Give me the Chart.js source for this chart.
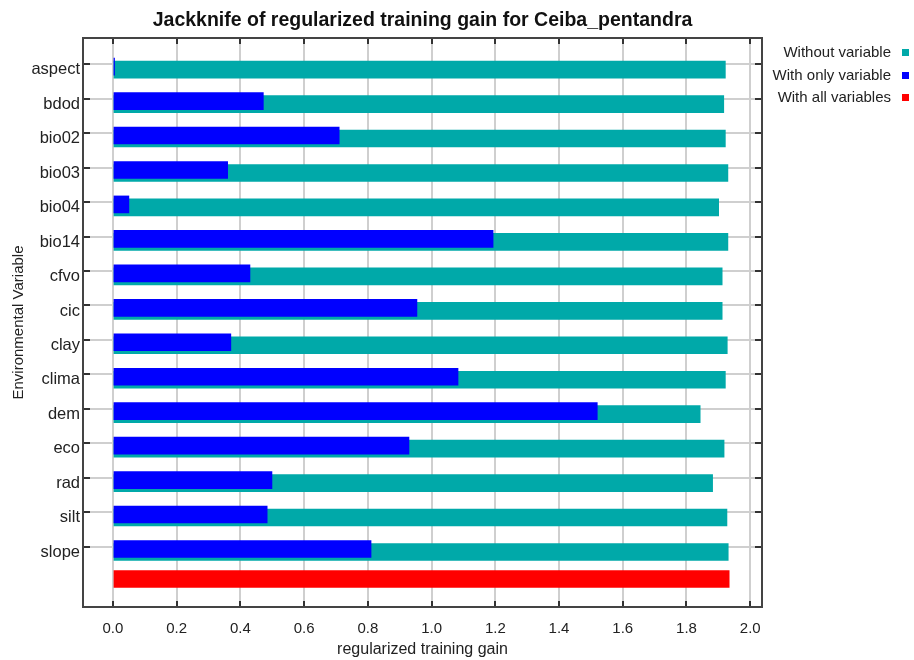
<!DOCTYPE html>
<html>
<head>
<meta charset="utf-8">
<title>Jackknife of regularized training gain for Ceiba_pentandra</title>
<script src="https://cdn.jsdelivr.net/npm/chart.js@4.4.1/dist/chart.umd.min.js"></script>
<style>
  html, body { margin: 0; padding: 0; background: #fff; }
  canvas { display: block; }
</style>
</head>
<body>
<canvas id="jackknife" width="914" height="660"></canvas>
<script>
// Jackknife of regularized training gain, one row per environmental variable
const variables = ['aspect', 'bdod', 'bio02', 'bio03', 'bio04', 'bio14', 'cfvo', 'cic',
  'clay', 'clima', 'dem', 'eco', 'rad', 'silt', 'slope'];
const withoutVariable = [1.922, 1.917, 1.922, 1.930, 1.901, 1.930, 1.912, 1.912,
  1.928, 1.922, 1.843, 1.918, 1.882, 1.927, 1.931];
const withOnlyVariable = [0.005, 0.472, 0.710, 0.360, 0.050, 1.193, 0.430, 0.954,
  0.370, 1.083, 1.520, 0.929, 0.499, 0.484, 0.810];
const withAllVariables = 1.934;
const gainTicks = [0.0, 0.2, 0.4, 0.6, 0.8, 1.0, 1.2, 1.4, 1.6, 1.8, 2.0];

const TEAL = '#00a9a9';
const BLUE = '#0000ff';
const RED = '#ff0000';
const GRID = '#cfcfcf';
const INK = '#222';

Chart.defaults.font.family = '"Liberation Sans", Arial, sans-serif';
Chart.defaults.color = INK;

// row scales: the labelled one plus hidden copies nudged by a few pixels,
// so the bars sit a little below the tick lines like the MaxEnt plot
const ROW_MIN = -0.763;
const ROW_MAX = 15.75;
const PLOT_H = 569;
const ROW_PX = PLOT_H / (ROW_MAX - ROW_MIN);

function rowScale(shiftPx) {
  const d = shiftPx / ROW_PX;
  return {
    type: 'linear', display: false, reverse: true, offset: false,
    grid: { offset: false },
    min: ROW_MIN - d, max: ROW_MAX - d
  };
}

const legendItems = [
  { text: 'Without variable', color: TEAL },
  { text: 'With only variable', color: BLUE },
  { text: 'With all variables', color: RED }
];

// frame, inward ticks, title and legend
const decorations = {
  id: 'decorations',
  afterDraw(chart) {
    const { ctx, chartArea: a, scales } = chart;
    ctx.save();

    ctx.strokeStyle = '#333';
    ctx.lineWidth = 2;
    ctx.beginPath();
    gainTicks.forEach(v => {
      const px = Math.round(scales.x.getPixelForValue(v));
      ctx.moveTo(px, a.bottom); ctx.lineTo(px, a.bottom - 6);
      ctx.moveTo(px, a.top); ctx.lineTo(px, a.top + 6);
    });
    variables.forEach((_, i) => {
      const py = Math.round(scales.y.getPixelForValue(i));
      ctx.moveTo(a.left, py); ctx.lineTo(a.left + 7, py);
      ctx.moveTo(a.right, py); ctx.lineTo(a.right - 7, py);
    });
    ctx.stroke();

    ctx.strokeStyle = '#444';
    ctx.lineWidth = 2;
    ctx.strokeRect(a.left, a.top, a.right - a.left, a.bottom - a.top);

    ctx.fillStyle = '#111';
    ctx.font = 'bold 19.5px "Liberation Sans", Arial, sans-serif';
    ctx.textAlign = 'center';
    ctx.textBaseline = 'middle';
    ctx.fillText('Jackknife of regularized training gain for Ceiba_pentandra', (a.left + a.right) / 2, 21);

    ctx.font = '15px "Liberation Sans", Arial, sans-serif';
    ctx.textAlign = 'right';
    legendItems.forEach((item, i) => {
      const y = 53 + i * 22.6;
      ctx.fillStyle = INK;
      ctx.fillText(item.text, 891, y);
      ctx.fillStyle = item.color;
      ctx.fillRect(902, Math.round(y - 4), 7, 7);
    });

    ctx.restore();
  }
};

new Chart(document.getElementById('jackknife'), {
  type: 'bar',
  data: {
    datasets: [
      {
        label: 'With only variable',
        data: withOnlyVariable.map((v, i) => ({ x: v, y: i })),
        backgroundColor: BLUE,
        yAxisID: 'yOnly',
        order: 0
      },
      {
        label: 'Without variable',
        data: withoutVariable.map((v, i) => ({ x: v, y: i })),
        backgroundColor: TEAL,
        yAxisID: 'yWithout',
        order: 1
      },
      {
        label: 'With all variables',
        data: [{ x: withAllVariables, y: variables.length }],
        backgroundColor: RED,
        yAxisID: 'yAll',
        order: 2
      }
    ]
  },
  options: {
    indexAxis: 'y',
    responsive: false,
    animation: false,
    grouped: false,
    barThickness: 17,
    layout: { padding: { top: 38, right: 152, bottom: 0, left: 0 } },
    plugins: {
      legend: { display: false },
      title: { display: false },
      tooltip: { enabled: false }
    },
    scales: {
      x: {
        type: 'linear',
        min: -0.094,
        max: 2.037,
        afterBuildTicks: s => { s.ticks = gainTicks.map(v => ({ value: v })); },
        afterFit: s => { s.height = 53; },
        grid: { color: GRID, lineWidth: 2, drawTicks: false },
        border: { display: false },
        ticks: {
          padding: 13,
          color: INK,
          font: { size: 15 },
          callback: v => v.toFixed(1)
        },
        title: {
          display: true,
          text: 'regularized training gain',
          color: INK,
          font: { size: 16 },
          padding: { top: 0, bottom: 1 }
        }
      },
      y: {
        type: 'linear',
        position: 'left',
        reverse: true,
        offset: false,
        min: ROW_MIN,
        max: ROW_MAX,
        afterBuildTicks: s => { s.ticks = variables.map((_, i) => ({ value: i })); },
        afterFit: s => { s.width = 83; },
        grid: { color: GRID, lineWidth: 2, drawTicks: false, offset: false },
        border: { display: false },
        ticks: {
          padding: 3,
          labelOffset: 5.5,
          color: INK,
          font: { size: 16.5 },
          callback: v => variables[v]
        },
        title: {
          display: true,
          text: 'Environmental Variable',
          color: INK,
          font: { size: 15 },
          padding: { top: 10, bottom: 0 }
        }
      },
      yWithout: rowScale(5.3),
      yOnly: rowScale(2.3),
      yAll: rowScale(-2.2)
    }
  },
  plugins: [decorations]
});
</script>
</body>
</html>
